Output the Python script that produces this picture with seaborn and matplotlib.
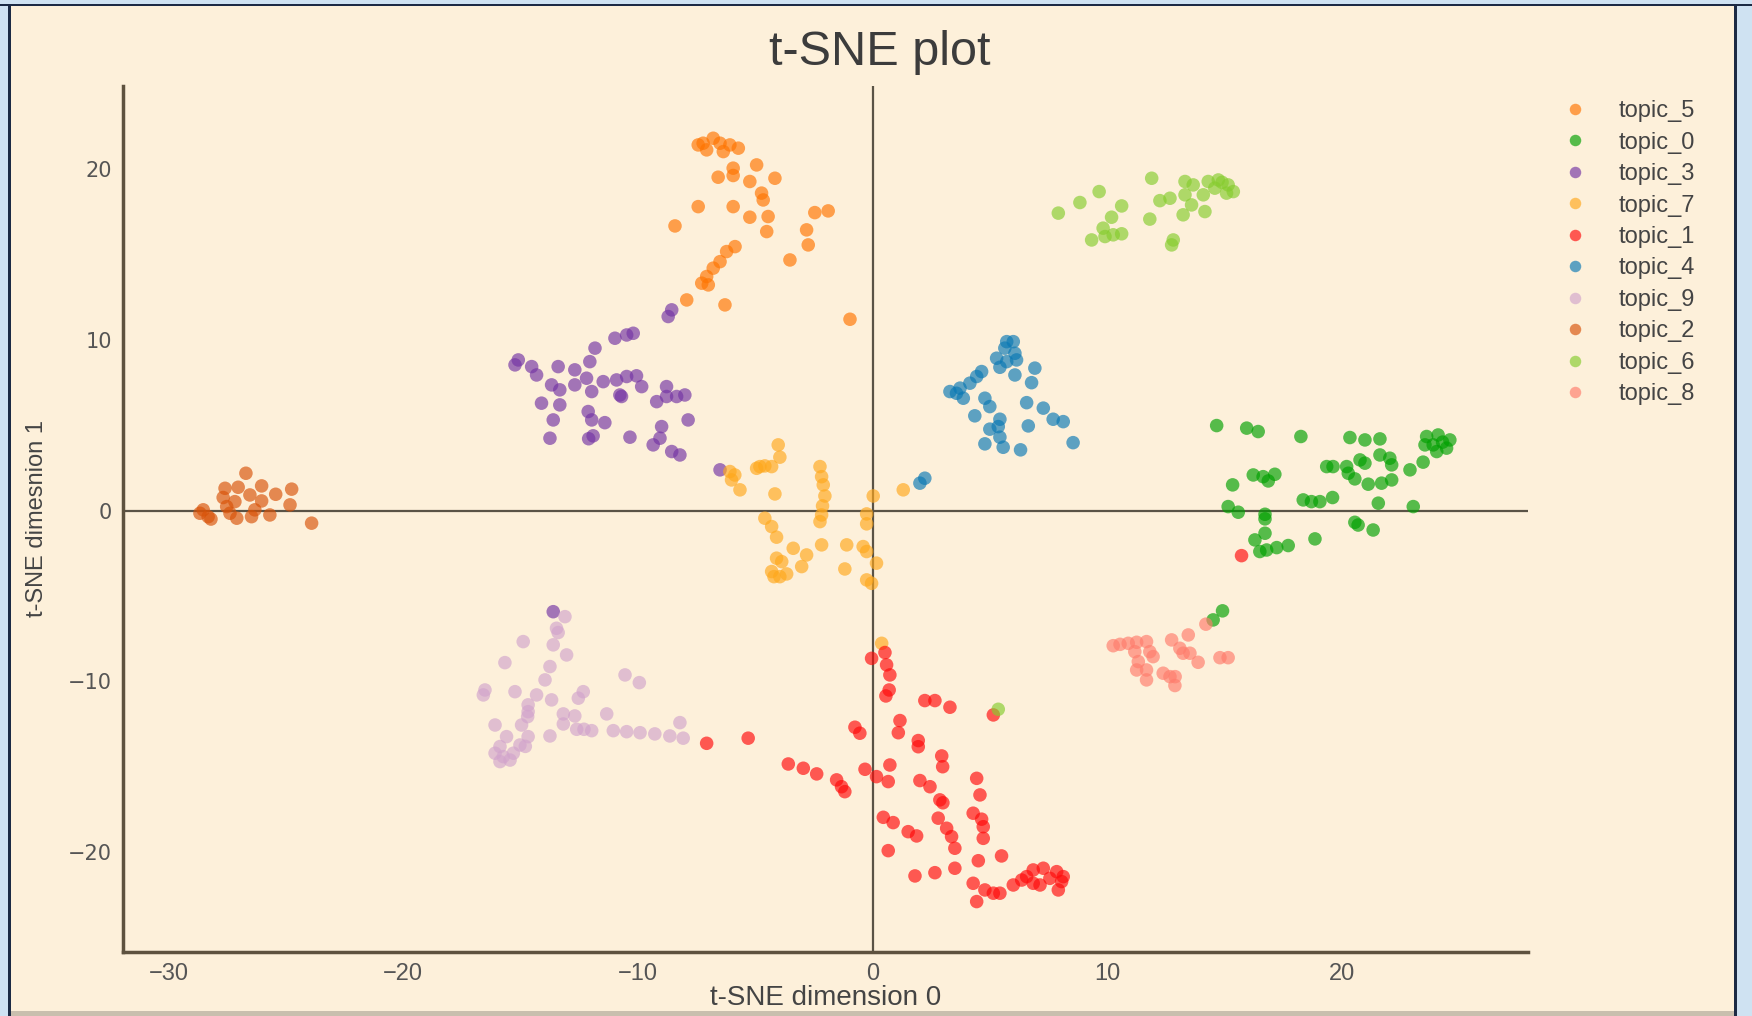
import matplotlib
matplotlib.use("Agg")
import matplotlib.pyplot as plt
import seaborn as sns
import pandas as pd
from matplotlib.patches import Rectangle

# point coordinates, one pair of lists per topic
topic_5_x = [-7.22, -6.79, -6.50, -7.07, -7.43, -5.72, -6.08, -6.36, -4.94, -5.94, -5.94, -6.58,
             -5.23, -4.16, -4.73, -4.66, -4.45, -4.51, -5.23, -5.94, -7.43, -8.42, -2.46, -1.89,
             -2.81, -2.74, -3.52, -5.86, -6.22, -6.50, -6.79, -7.07, -7.28, -7.00, -7.92, -6.29, -0.96]
topic_5_y = [21.49, 21.78, 21.49, 21.10, 21.39, 21.20, 21.39, 21.00, 20.22, 20.03, 19.60, 19.50,
             19.25, 19.44, 18.57, 18.17, 17.20, 16.32, 17.16, 17.78, 17.78, 16.65, 17.43, 17.53,
             16.42, 15.54, 14.66, 15.44, 15.15, 14.56, 14.18, 13.69, 13.30, 13.20, 12.32, 12.03, 11.19]

topic_0_x = [14.67, 15.95, 16.44, 18.26, 20.35, 20.99, 21.63, 23.62, 24.11, 24.61, 23.90, 24.47,
             23.55, 24.05, 24.30, 23.47, 22.91, 21.63, 22.05, 22.13, 20.78, 20.99, 20.21, 20.28,
             20.56, 19.36, 19.63, 21.13, 21.70, 22.13, 16.23, 16.65, 17.15, 16.87, 15.35, 18.36,
             18.71, 19.07, 19.61, 21.56, 23.05, 15.16, 15.59, 16.73, 16.73, 20.56, 20.70, 21.34,
             16.73, 16.30, 18.86, 16.51, 16.80, 17.23, 17.72, 14.92, 14.52]
topic_0_y = [4.97, 4.82, 4.62, 4.33, 4.27, 4.13, 4.19, 4.33, 4.42, 4.13, 3.84, 3.65,
             3.84, 3.45, 4.00, 2.83, 2.38, 3.25, 3.06, 2.67, 2.96, 2.77, 2.57, 2.18,
             1.85, 2.57, 2.57, 1.54, 1.60, 1.79, 2.08, 1.98, 2.12, 1.73, 1.50, 0.62,
             0.52, 0.52, 0.76, 0.43, 0.23, 0.23, -0.10, -0.22, -0.49, -0.69, -0.85, -1.14,
             -1.33, -1.72, -1.66, -2.40, -2.31, -2.17, -2.05, -5.87, -6.40]

topic_3_x = [-15.10, -15.24, -14.53, -14.32, -13.40, -12.69, -12.19, -13.68, -13.33, -12.69,
             -11.97, -11.48, -10.91, -10.48, -10.06, -9.84, -10.70, -12.05, -11.83, -10.98,
             -10.48, -10.20, -8.71, -8.56, -14.11, -13.33, -13.61, -12.12, -11.97, -11.41,
             -13.75, -11.91, -12.10, -10.34, -8.99, -9.06, -9.35, -8.56, -8.21, -9.20,
             -8.78, -8.35, -8.00, -8.78, -7.86, -6.50, -10.77, -13.61]
topic_3_y = [8.81, 8.52, 8.42, 7.93, 8.42, 8.23, 7.74, 7.35, 7.06, 7.35,
             6.96, 7.54, 7.64, 7.84, 7.88, 7.25, 6.67, 8.71, 9.50, 10.08,
             10.27, 10.37, 11.35, 11.74, 6.28, 6.18, 5.30, 5.79, 5.30, 5.14,
             4.23, 4.37, 4.20, 4.29, 4.91, 4.23, 3.84, 3.45, 3.25, 6.37,
             6.67, 6.67, 6.76, 7.25, 5.30, 2.38, 6.76, -5.92]

topic_7_x = [-4.02, -3.95, -6.08, -5.87, -6.01, -4.94, -4.59, -4.30, -5.65, -4.16, -2.24, -2.17,
             -2.10, -2.03, -2.13, -2.17, -2.24, 0.03, -0.25, -0.25, 1.31, -4.59, -4.30, -4.09,
             -3.38, -2.81, -2.17, -1.10, -0.40, -0.25, 0.17, -3.02, -4.09, -3.87, -4.30, -3.95,
             -3.66, -4.20, -1.18, -0.25, -0.04, -4.80, 0.39]
topic_7_y = [3.84, 3.12, 2.28, 2.08, 1.79, 2.47, 2.61, 2.57, 1.21, 0.97, 2.57, 1.98,
             1.50, 0.85, 0.27, -0.26, -0.65, 0.85, -0.20, -0.78, 1.21, -0.45, -0.94, -1.56,
             -2.21, -2.60, -2.01, -2.01, -2.11, -2.40, -3.08, -3.28, -2.79, -2.99, -3.57, -3.87,
             -3.71, -3.87, -3.42, -4.06, -4.26, 2.57, -7.77]

topic_1_x = [0.53, -0.04, 0.60, 0.74, 0.71, 0.57, 2.23, 2.66, 3.30, 5.15, 1.17, 1.10, 1.95, 1.95,
             2.95, 2.99, -0.75, -0.54, -7.07, -5.30, -3.59, -2.95, -2.38, -1.53, -1.32, -1.18,
             -0.32, 0.17, 0.74, 0.67, 2.02, 2.45, 2.87, 3.00, 4.44, 4.58, 4.29, 4.65, 4.72, 4.72,
             2.80, 3.16, 3.37, 3.51, 0.46, 0.88, 1.52, 1.88, 0.67, 1.81, 2.66, 3.51, 4.51, 5.50,
             4.29, 4.79, 5.15, 5.43, 4.44, 6.00, 6.36, 6.85, 7.28, 7.85, 8.06, 7.92, 6.85, 7.56,
             6.57, 8.13, 7.14, 15.73]
topic_1_y = [-8.31, -8.65, -9.03, -9.62, -10.50, -10.85, -11.12, -11.12, -11.51, -11.96, -12.29,
             -13.00, -13.46, -13.82, -14.36, -14.99, -12.68, -13.03, -13.62, -13.32, -14.83,
             -15.08, -15.41, -15.76, -16.16, -16.45, -15.14, -15.57, -14.89, -15.86, -15.80,
             -16.16, -16.93, -17.10, -15.67, -16.64, -17.71, -18.06, -18.50, -19.18, -18.00,
             -18.59, -19.08, -19.76, -17.95, -18.26, -18.79, -19.04, -19.90, -21.38, -21.19,
             -20.93, -20.49, -20.21, -21.81, -22.20, -22.39, -22.39, -22.88, -21.91, -21.62,
             -21.03, -20.93, -21.13, -21.71, -22.20, -21.81, -21.52, -21.42, -21.42, -21.91, -2.64]

topic_4_x = [5.72, 6.00, 5.64, 6.07, 5.29, 5.72, 6.14, 5.43, 6.92, 6.07, 6.78, 4.65, 4.44, 4.15,
             3.73, 3.30, 3.58, 3.87, 4.79, 5.00, 4.36, 6.57, 7.28, 7.70, 8.13, 5.43, 5.36, 5.00,
             6.64, 5.43, 4.79, 5.57, 6.31, 8.55, 2.23, 2.02]
topic_4_y = [9.88, 9.88, 9.50, 9.20, 8.91, 8.71, 8.81, 8.38, 8.33, 7.93, 7.48, 8.13, 7.84, 7.45,
             7.16, 6.96, 6.86, 6.57, 6.57, 6.08, 5.54, 6.31, 5.99, 5.34, 5.20, 5.34, 4.91, 4.76,
             4.95, 4.29, 3.90, 3.70, 3.55, 3.97, 1.89, 1.60]

topic_9_x = [-13.11, -13.47, -13.40, -14.89, -13.61, -13.04, -15.67, -13.75, -13.96, -10.55,
             -9.94, -16.52, -16.59, -15.24, -14.32, -13.68, -12.33, -12.54, -14.68, -14.68,
             -14.70, -13.18, -12.69, -11.33, -16.09, -14.96, -13.18, -12.61, -12.30, -11.97,
             -11.05, -10.48, -9.91, -9.28, -8.64, -8.07, -8.21, -15.60, -14.68, -13.75,
             -15.03, -14.80, -15.88, -16.09, -15.74, -15.88, -15.31, -15.45]
topic_9_y = [-6.21, -6.89, -7.14, -7.67, -7.86, -8.45, -8.90, -9.13, -9.91, -9.62,
             -10.07, -10.50, -10.79, -10.60, -10.79, -11.08, -10.60, -10.98, -11.37, -11.77,
             -12.06, -11.90, -12.02, -11.90, -12.55, -12.55, -12.49, -12.80, -12.80, -12.88,
             -12.88, -12.94, -13.00, -13.07, -13.19, -13.32, -12.41, -13.23, -13.23, -13.19,
             -13.72, -13.80, -13.81, -14.20, -14.40, -14.69, -14.20, -14.60]

topic_2_x = [-26.71, -27.60, -27.04, -26.04, -27.68, -27.18, -26.54, -26.04, -25.44, -24.76,
             -24.83, -28.53, -28.32, -27.39, -27.10, -26.47, -26.33, -25.69, -23.91, -28.67,
             -28.20, -27.53]
topic_2_y = [2.18, 1.30, 1.36, 1.44, 0.76, 0.52, 0.91, 0.56, 0.95, 1.25,
             0.33, 0.04, -0.36, -0.16, -0.45, -0.36, 0.04, -0.26, -0.74, -0.16,
             -0.50, 0.23]

topic_6_x = [7.92, 8.84, 9.66, 10.62, 10.19, 9.34, 9.91, 10.26, 10.62, 9.83, 11.90, 11.82,
             12.25, 12.68, 12.82, 12.75, 13.32, 13.67, 13.32, 13.60, 13.24, 14.17, 14.10, 14.31,
             14.74, 15.16, 15.38, 15.09, 14.59, 14.90, 5.36]
topic_6_y = [17.40, 18.02, 18.66, 17.82, 17.16, 15.83, 16.03, 16.13, 16.19, 16.52, 19.44, 17.05,
             18.13, 18.27, 15.83, 15.54, 19.25, 19.05, 18.47, 17.88, 17.30, 17.49, 18.47, 19.25,
             19.34, 19.05, 18.66, 18.57, 18.86, 19.20, -11.63]

topic_8_x = [14.21, 13.46, 12.75, 10.26, 10.55, 10.90, 11.26, 11.68, 11.18, 11.82, 11.96, 13.10,
             13.24, 13.53, 13.88, 14.81, 15.16, 11.33, 11.26, 11.68, 12.39, 12.68, 12.90, 11.68,
             12.89]
topic_8_y = [-6.65, -7.28, -7.57, -7.91, -7.83, -7.77, -7.71, -7.67, -8.26, -8.26, -8.55, -8.06,
             -8.35, -8.35, -8.88, -8.61, -8.61, -8.84, -9.33, -9.33, -9.52, -9.72, -9.72, -9.91,
             -10.24]

topic_order = ["topic_5", "topic_0", "topic_3", "topic_7", "topic_1",
               "topic_4", "topic_9", "topic_2", "topic_6", "topic_8"]
topic_colors = ["#ff7400", "#00a000", "#7434a4", "#ffa81c", "#ff0a0a",
                "#0a78b4", "#d2a4cc", "#d85208", "#86cc2e", "#ff7c6c"]

series = {
    "topic_5": (topic_5_x, topic_5_y), "topic_0": (topic_0_x, topic_0_y),
    "topic_3": (topic_3_x, topic_3_y), "topic_7": (topic_7_x, topic_7_y),
    "topic_1": (topic_1_x, topic_1_y), "topic_4": (topic_4_x, topic_4_y),
    "topic_9": (topic_9_x, topic_9_y), "topic_2": (topic_2_x, topic_2_y),
    "topic_6": (topic_6_x, topic_6_y), "topic_8": (topic_8_x, topic_8_y),
}
frames = [pd.DataFrame({"x": xs, "y": ys, "topic": name}) for name, (xs, ys) in series.items()]
df = pd.concat(frames, ignore_index=True)

bg = "#fdf0da"
sns.set_theme(style="white")
plt.rcParams["font.family"] = ["Liberation Sans", "DejaVu Sans"]

fig = plt.figure(figsize=(17.52, 10.16), dpi=100, facecolor=bg)
ax = fig.add_axes([0.0702, 0.063, 0.8022, 0.8524])
ax.set_facecolor(bg)

sns.scatterplot(data=df, x="x", y="y", hue="topic", hue_order=topic_order,
                palette=dict(zip(topic_order, topic_colors)), s=95, alpha=0.66,
                linewidth=0, ax=ax, legend=True)

ax.axhline(0, color="#5a5346", lw=1.6, zorder=0)
ax.axvline(0, color="#5a5346", lw=1.6, zorder=0)

ax.set_xlim(-31.95, 27.96)
ax.set_ylim(-25.83, 24.84)
ax.set_xticks([-30, -20, -10, 0, 10, 20])
ax.set_yticks([-20, -10, 0, 10, 20])
ax.tick_params(axis="both", length=0, labelcolor="#555555")
ax.tick_params(axis="x", pad=8, labelsize=17)
ax.tick_params(axis="y", pad=8, labelsize=15)
for lab in ax.get_yticklabels():
    lab.set_family("DejaVu Sans")

for side in ["top", "right"]:
    ax.spines[side].set_visible(False)
for side in ["left", "bottom"]:
    ax.spines[side].set_color("#5e523f")
    ax.spines[side].set_linewidth(2.5)

ax.set_xlabel("t-SNE dimension 0", fontsize=20, color="#444444", va="center")
ax.xaxis.set_label_coords(0.5, -0.053)
ax.set_ylabel("t-SNE dimesnion 1", fontsize=17, color="#444444", labelpad=14)
fig.suptitle("t-SNE plot", x=0.502, y=0.948, fontsize=35, color="#3c3c3c", va="center")

handles, labels = ax.get_legend_handles_labels()
ax.legend(handles, labels, loc="upper left", bbox_to_anchor=(1.001, 1.008),
          frameon=False, fontsize=17, labelspacing=0.4, handletextpad=0.85,
          markerscale=0.85, labelcolor="#444444")

# screenshot frame around the chart
for rect in [(0, 0, 0.0045, 1), (0.9915, 0, 0.0085, 1), (0, 0.996, 1, 0.004)]:
    fig.patches.append(Rectangle(rect[:2], rect[2], rect[3], transform=fig.transFigure,
                                 facecolor="#cfe2f2", edgecolor="none", zorder=-1))
fig.patches.append(Rectangle((0.0045, 0.0), 0.0015, 0.996, transform=fig.transFigure,
                             facecolor="#1c2a44", edgecolor="none", zorder=-1))
fig.patches.append(Rectangle((0.99, 0.0), 0.0015, 0.996, transform=fig.transFigure,
                             facecolor="#1c2a44", edgecolor="none", zorder=-1))
fig.patches.append(Rectangle((0.0, 0.994), 1.0, 0.002, transform=fig.transFigure,
                             facecolor="#1c2a44", edgecolor="none", zorder=-1))
fig.patches.append(Rectangle((0.006, 0.0), 0.984, 0.005, transform=fig.transFigure,
                             facecolor="#c9bfae", edgecolor="none", zorder=-1))

fig.savefig("out.png", dpi=100, facecolor=bg)
plt.close(fig)
